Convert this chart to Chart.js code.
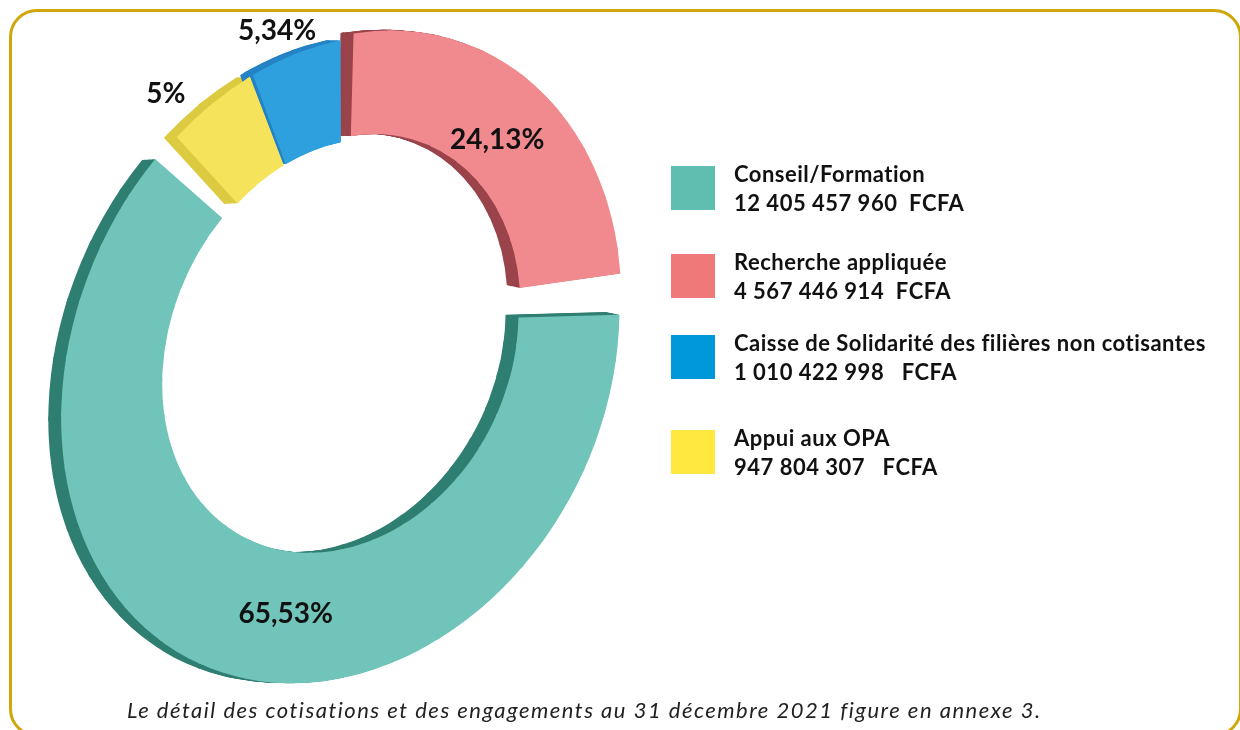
<!DOCTYPE html>
<html lang="fr">
<head>
<meta charset="utf-8">
<script src="https://cdn.jsdelivr.net/npm/chart.js@4.4.1/dist/chart.umd.min.js"></script>
<style>
    html, body {
        margin: 0;
        padding: 0;
        width: 1240px;
        height: 730px;
        overflow: hidden;
        background: #ffffff;
        font-family: Lato, 'Noto Sans', sans-serif;
    }
    .frame {
        position: absolute;
        left: 9px;
        top: 9px;
        width: 1233px;
        height: 728px;
        box-sizing: border-box;
        border: 3px solid #cfa70a;
        border-radius: 28px;
    }
    .chart-box {
        position: absolute;
        left: 0;
        top: 0;
        width: 684px;
        height: 730px;
    }
    #legend {
        position: absolute;
        left: 671px;
        top: 158px;
    }
    .legend-item {
        display: flex;
        align-items: center;
        height: 60px;
        margin-bottom: 28px;
    }
    .legend-item:nth-child(2) {
        margin-bottom: 21px;
    }
    .legend-item:nth-child(3) {
        margin-bottom: 35px;
    }
    .legend-swatch {
        width: 44px;
        height: 44px;
        margin-right: 19px;
        flex: none;
    }
    .legend-text {
        font-weight: 700;
        font-size: 22px;
        letter-spacing: 0.5px;
        line-height: 29px;
        color: #111111;
        white-space: pre;
    }
    .caption {
        position: absolute;
        left: 127px;
        top: 696px;
        font-style: italic;
        font-size: 22px;
        letter-spacing: 1.5px;
        color: #222222;
        white-space: nowrap;
    }
</style>
</head>
<body>
<div class="frame"></div>
<div class="chart-box"><canvas id="ringChart"></canvas></div>
<div id="legend"></div>
<div class="caption">Le détail des cotisations et des engagements au 31 décembre 2021 figure en annexe 3.</div>

<script>
// legend order
const categories = [
    'Conseil/Formation',
    'Recherche appliquée',
    'Caisse de Solidarité des filières non cotisantes',
    'Appui aux OPA',
];

const amounts = [
    '12 405 457 960  FCFA',
    '4 567 446 914  FCFA',
    '1 010 422 998   FCFA',
    '947 804 307   FCFA',
];

const shares = [65.53, 24.13, 5.34, 5];

const shareLabels = ['65,53%', '24,13%', '5,34%', '5%'];

// clockwise from 12 o'clock: pink, teal, yellow, blue
const ringOrder = [1, 0, 3, 2];

const faceColors = ['#70c4b9', '#f08a8f', '#2fa0de', '#f5e35c'];
const sideColors = ['#2f7e72', '#9a434b', '#2383c4', '#dccb40'];
const legendColors = ['#5fbeaf', '#ef7879', '#0098d8', '#ffe840'];
const explode = [16, 24, 0, 0];

// label spot: fraction along the arc, radius as share of outer radius
const labelSpots = [
    { frac: 0.454, r: 0.845 },
    { frac: 0.518, r: 0.80 },
    { frac: 0.36, r: 1.14 },
    { frac: 0.2, r: 1.19 },
];

// fake 3d tilt: lower left comes forward, upper right goes back
const tilt = { kx: 0.99, syMid: 1.13, syAmp: 0.13, shearMid: -0.195, shearAmp: 0.145 };
const sectorDeg = 10;
const depthX = -13;
const depthY = -3;

const legendEl = document.getElementById('legend');
categories.forEach((name, i) => {
    const item = document.createElement('div');
    item.className = 'legend-item';
    const sw = document.createElement('div');
    sw.className = 'legend-swatch';
    sw.style.background = legendColors[i];
    const txt = document.createElement('div');
    txt.className = 'legend-text';
    txt.textContent = name + '\n' + amounts[i];
    item.appendChild(sw);
    item.appendChild(txt);
    legendEl.appendChild(item);
});

function arcShift(arc, off) {
    const mid = (arc.startAngle + arc.endAngle) / 2;
    const d = off / 4;
    return { dx: Math.cos(mid) * d, dy: Math.sin(mid) * d };
}

// where a unit direction (angle t, clockwise from 12 o'clock) ends up on screen
function warpDir(t) {
    const s = Math.sin(t);
    const c = Math.cos(t);
    const sy = tilt.syMid - tilt.syAmp * c;
    const sh = tilt.shearMid + tilt.shearAmp * s;
    return [tilt.kx * s, -c * sy + s * sh];
}

function unitDir(t) {
    return [Math.sin(t), -Math.cos(t)];
}

// linear map taking the two edge directions of a sector to their warped directions
function sectorMatrix(t0, t1) {
    const u0 = unitDir(t0);
    const u1 = unitDir(t1);
    const v0 = warpDir(t0);
    const v1 = warpDir(t1);
    const det = u0[0] * u1[1] - u1[0] * u0[1];
    return [
        (v0[0] * u1[1] - v1[0] * u0[1]) / det,
        (v1[0] * u0[0] - v0[0] * u1[0]) / det,
        (v0[1] * u1[1] - v1[1] * u0[1]) / det,
        (v1[1] * u0[0] - v0[1] * u1[0]) / det,
    ];
}

function applyMatrix(m, p) {
    return [m[0] * p[0] + m[1] * p[1], m[2] * p[0] + m[3] * p[1]];
}

function eachSector(chart, paint) {
    const ctx = chart.ctx;
    const arcs = chart.getDatasetMeta(0).data;
    const cx = arcs[0].x;
    const cy = arcs[0].y;
    const step = sectorDeg * Math.PI / 180;
    const eps = 0.4 * Math.PI / 180;
    const far = 3000;
    for (let k = 0; k < 360 / sectorDeg; k++) {
        const t0 = k * step;
        const t1 = t0 + step;
        const m = sectorMatrix(t0, t1);
        const w0 = applyMatrix(m, unitDir(t0 - eps));
        const w1 = applyMatrix(m, unitDir(t1 + eps));
        ctx.save();
        ctx.beginPath();
        ctx.moveTo(cx, cy);
        ctx.lineTo(cx + far * w0[0], cy + far * w0[1]);
        ctx.lineTo(cx + far * w1[0], cy + far * w1[1]);
        ctx.closePath();
        ctx.clip();
        ctx.translate(cx, cy);
        ctx.transform(m[0], m[2], m[1], m[3], 0, 0);
        ctx.translate(-cx, -cy);
        paint(ctx, arcs);
        ctx.restore();
    }
}

const ringPlugin = {
    id: 'ring3d',
    beforeDatasetsDraw(chart) {
        // side faces first: the same arcs, pushed back and darker
        eachSector(chart, (ctx, arcs) => {
            arcs.forEach((arc, j) => {
                const face = arc.options.backgroundColor;
                arc.options.backgroundColor = sideColors[ringOrder[j]];
                for (let n = 1; n <= 13; n++) {
                    ctx.save();
                    ctx.translate(depthX * n / 13, depthY * n / 13);
                    arc.draw(ctx);
                    ctx.restore();
                }
                arc.options.backgroundColor = face;
            });
        });
        // then the front faces
        eachSector(chart, (ctx, arcs) => {
            arcs.forEach(arc => arc.draw(ctx));
        });
        return false;
    },
    afterDraw(chart) {
        const ctx = chart.ctx;
        const arcs = chart.getDatasetMeta(0).data;
        ctx.save();
        ctx.font = 'bold 28px Lato, "Noto Sans", sans-serif';
        ctx.fillStyle = '#111111';
        ctx.textAlign = 'center';
        ctx.textBaseline = 'middle';
        arcs.forEach((arc, j) => {
            const i = ringOrder[j];
            const s = arcShift(arc, explode[i]);
            const spot = labelSpots[i];
            const a = arc.startAngle + (arc.endAngle - arc.startAngle) * spot.frac;
            const r = arc.outerRadius * spot.r;
            const px = s.dx + Math.cos(a) * r;
            const py = s.dy + Math.sin(a) * r;
            const v = warpDir(Math.atan2(px, -py));
            const len = Math.hypot(px, py);
            ctx.fillText(shareLabels[i], arc.x + v[0] * len, arc.y + v[1] * len);
        });
        ctx.restore();
    }
};

const ringConfig = {
    type: 'doughnut',
    data: {
        labels: ringOrder.map(i => categories[i]),
        datasets: [{
            data: ringOrder.map(i => shares[i]),
            backgroundColor: ringOrder.map(i => faceColors[i]),
            offset: ringOrder.map(i => explode[i]),
            borderWidth: 0,
            spacing: 16,
            clip: false
        }]
    },
    options: {
        responsive: true,
        maintainAspectRatio: false,
        animation: false,
        radius: 270,
        cutout: '62.2%',
        rotation: 0,
        layout: { padding: { bottom: 94 } },
        plugins: {
            legend: { display: false },
            tooltip: { enabled: false }
        }
    },
    plugins: [ringPlugin]
};

const ringChart = new Chart(
    document.getElementById('ringChart'),
    ringConfig
);
</script>
</body>
</html>
